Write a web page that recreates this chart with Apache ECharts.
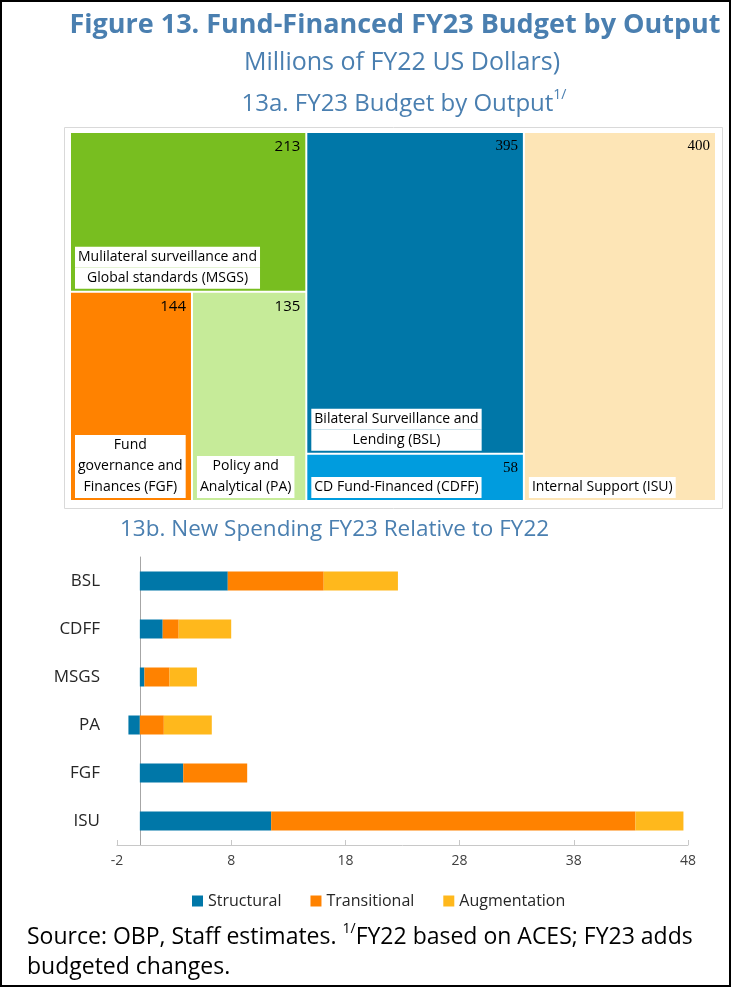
<!DOCTYPE html>
<html>
<head>
<meta charset="utf-8">
<title>Figure 13. Fund-Financed FY23 Budget by Output</title>
<script src="https://cdn.jsdelivr.net/npm/echarts@6/dist/echarts.min.js"></script>
<style>
  html, body { margin: 0; padding: 0; background: #fff; }
  #chart { width: 737px; height: 989px; }
</style>
</head>
<body>
<div id="chart"></div>
<script>
// 13a: FY23 budget by output, millions of FY22 US dollars
const outputCodes = ['MSGS', 'FGF', 'PA', 'BSL', 'CDFF', 'ISU'];
const outputNames = [
  'Mulilateral surveillance and\nGlobal standards (MSGS)',
  'Fund\ngovernance and\nFinances (FGF)',
  'Policy and\nAnalytical (PA)',
  'Bilateral Surveillance and\nLending (BSL)',
  'CD Fund-Financed (CDFF)',
  'Internal Support (ISU)'
];
const budgetValues = [213, 144, 135, 395, 58, 400];
// how the tiles are blocked together in the figure
const tileGroups = [['MSGS', 'FGF', 'PA'], ['BSL', 'CDFF'], ['ISU']];

// 13b: new spending FY23 relative to FY22
const spendCategories = ['BSL', 'CDFF', 'MSGS', 'PA', 'FGF', 'ISU'];
const structural = [7.7, 2.0, 0.4, -1.0, 3.8, 11.5];
const transitional = [8.4, 1.4, 2.2, 2.1, 5.6, 31.9];
const augmentation = [6.5, 4.6, 2.4, 4.2, 0, 4.2];
const xTickLabels = [-2, 8, 18, 28, 38, 48];

const tileColors = { MSGS: '#78be20', FGF: '#ff8200', PA: '#c6eb99', BSL: '#0077a8', CDFF: '#009cde', ISU: '#fde5b6' };
const serifValueTiles = ['BSL', 'CDFF', 'ISU'];
const barColors = ['#0077a8', '#ff8200', '#ffb81c'];
const FONT = '"Open Sans", sans-serif';
const TITLE_BLUE = '#4a7fb0';

// name boxes: white, centred lines, sitting in the lower left corner of a tile
const NAME_SIZE = 14, NAME_LH = 21, NAME_PAD = 3;
const measureCtx = document.createElement('canvas').getContext('2d');
function textWidth(s) {
  measureCtx.font = NAME_SIZE + 'px "Open Sans"';
  return measureCtx.measureText(s).width;
}
function nameLabel(code) {
  const lines = outputNames[outputCodes.indexOf(code)].split('\n');
  const widths = lines.map(textWidth);
  const boxW = Math.max(...widths) + 2 * NAME_PAD;
  const rich = {};
  lines.forEach((l, i) => {
    const padL = (boxW - widths[i]) / 2;
    rich['l' + i] = {
      padding: [0, boxW - widths[i] - padL, 0, padL],
      backgroundColor: '#fff', lineHeight: NAME_LH, height: NAME_LH,
      fontSize: NAME_SIZE, fontFamily: FONT, color: '#000'
    };
  });
  const text = lines.map((l, i) => '{l' + i + '|' + l + '}').join('\n');
  return { formatter: () => text, rich, offset: [4, -(lines.length * NAME_LH + 2)] };
}

function buildTree(withNames) {
  return tileGroups.map(group => ({
    name: '',
    children: group.map(code => {
      const value = budgetValues[outputCodes.indexOf(code)];
      if (withNames) {
        return { name: code, value, itemStyle: { color: tileColors[code] }, label: nameLabel(code) };
      }
      return {
        name: code, value,
        label: serifValueTiles.includes(code) ? { fontFamily: '"Liberation Serif", serif', fontSize: 15 } : {}
      };
    })
  }));
}

function treemapBase() {
  return {
    type: 'treemap',
    left: 71, top: 133, width: 644, height: 367,
    roam: false, nodeClick: false, silent: true,
    squareRatio: 1,
    breadcrumb: { show: false },
    animation: false
  };
}

const chart = echarts.init(document.getElementById('chart'));

chart.setOption({
  animation: false,
  textStyle: { fontFamily: FONT },
  graphic: [
    { type: 'rect', silent: true, z: 100, shape: { x: 1, y: 1, width: 729, height: 985 }, style: { fill: 'none', stroke: '#000', lineWidth: 2 } },
    { type: 'rect', silent: true, shape: { x: 64.5, y: 127.5, width: 658, height: 381 }, style: { fill: 'none', stroke: '#d9d9d9', lineWidth: 1 } },
    { type: 'text', x: 395, y: 25, style: { text: 'Figure 13. Fund-Financed FY23 Budget by Output', fill: TITLE_BLUE, fontSize: 27, fontWeight: 'bold', fontFamily: FONT, align: 'center', verticalAlign: 'middle' } },
    { type: 'text', x: 402, y: 63, style: { text: 'Millions of FY22 US Dollars)', fill: TITLE_BLUE, fontSize: 25, fontFamily: FONT, align: 'center', verticalAlign: 'middle' } },
    { type: 'text', x: 404, y: 104, style: {
      text: '13a. FY23 Budget by Output{sup|1/}', fill: TITLE_BLUE, fontSize: 24, fontFamily: FONT, lineHeight: 32,
      align: 'center', verticalAlign: 'middle',
      rich: { sup: { fontSize: 14, fontFamily: FONT, lineHeight: 18, verticalAlign: 'top' } } } },
    { type: 'text', x: 120, y: 530, style: { text: '13b. New Spending FY23 Relative to FY22', fill: TITLE_BLUE, fontSize: 22.5, fontFamily: FONT, align: 'left', verticalAlign: 'middle' } },
    { type: 'text', x: 27, y: 952, style: {
      text: 'Source: OBP, Staff estimates. {sup|1/}FY22 based on ACES; FY23 adds\nbudgeted changes.',
      fill: '#000', fontSize: 23, fontFamily: FONT, lineHeight: 30, align: 'left', verticalAlign: 'middle',
      rich: { sup: { fontSize: 14, fontFamily: FONT, lineHeight: 16, verticalAlign: 'top', fill: '#000' } } } }
  ],
  legend: {
    data: ['Structural', 'Transitional', 'Augmentation'],
    left: 187, top: 888,
    icon: 'rect', itemWidth: 11, itemHeight: 11, itemGap: 29, itemStyle: { borderWidth: 0 },
    textStyle: { fontSize: 16, color: '#262626', fontFamily: FONT }
  },
  grid: { left: 117, right: 49, top: 557, height: 288, containLabel: false },
  xAxis: {
    type: 'value', min: -2, max: 48, interval: 10,
    axisLine: { show: true, onZero: false, lineStyle: { color: '#c8c8c8' } },
    axisTick: { show: true, inside: true, length: 5, lineStyle: { color: '#c8c8c8' } },
    splitLine: { show: false },
    axisLabel: { color: '#404040', fontSize: 14, margin: 9, formatter: v => (xTickLabels.includes(v) ? String(v) : '') }
  },
  yAxis: {
    type: 'category', data: spendCategories, inverse: true,
    axisLine: { show: true, onZero: true, lineStyle: { color: '#a6a6a6' } },
    axisTick: { show: false },
    axisLabel: { color: '#262626', fontSize: 17, margin: 17 }
  },
  series: [
    Object.assign(treemapBase(), {
      itemStyle: { borderColor: '#fff', borderWidth: 0, gapWidth: 2 },
      levels: [
        { itemStyle: { gapWidth: 2, borderWidth: 0, borderColor: '#fff' } },
        { itemStyle: { gapWidth: 2, borderWidth: 0, borderColor: '#fff' }, upperLabel: { show: false } },
        { itemStyle: { borderWidth: 0 } }
      ],
      label: { show: true, position: [0, '100%'], align: 'left', verticalAlign: 'top', padding: 0, distance: 0, overflow: 'none' },
      data: buildTree(true)
    }),
    Object.assign(treemapBase(), {
      z: 3,
      itemStyle: { color: 'rgba(0,0,0,0)', borderColor: 'rgba(0,0,0,0)', borderWidth: 0, gapWidth: 2 },
      levels: [
        { itemStyle: { gapWidth: 2, borderWidth: 0, borderColor: 'rgba(0,0,0,0)' } },
        { itemStyle: { gapWidth: 2, borderWidth: 0, borderColor: 'rgba(0,0,0,0)' }, upperLabel: { show: false } },
        { itemStyle: { borderWidth: 0, color: 'rgba(0,0,0,0)' } }
      ],
      label: { show: true, position: 'insideTopRight', formatter: '{c}', color: '#000', fontSize: 15, fontFamily: FONT, padding: [6, 5, 0, 0], distance: 0 },
      data: buildTree(false)
    }),
    { name: 'Structural', type: 'bar', stack: 'total', barWidth: 19, data: structural, itemStyle: { color: barColors[0] } },
    { name: 'Transitional', type: 'bar', stack: 'total', barWidth: 19, data: transitional, itemStyle: { color: barColors[1] } },
    { name: 'Augmentation', type: 'bar', stack: 'total', barWidth: 19, data: augmentation, itemStyle: { color: barColors[2] } }
  ]
});
</script>
</body>
</html>
